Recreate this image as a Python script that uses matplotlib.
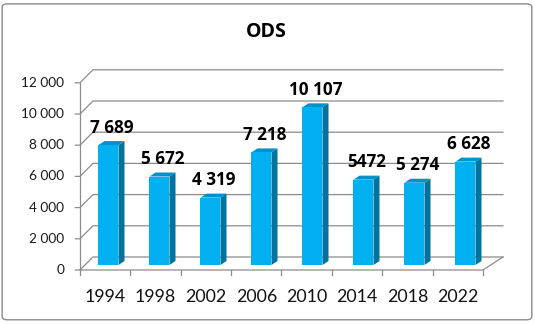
import matplotlib.pyplot as plt
from matplotlib.patches import Polygon, FancyBboxPatch

years = ['1994', '1998', '2002', '2006', '2010', '2014', '2018', '2022']
values = [7689, 5672, 4319, 7218, 10107, 5472, 5274, 6628]
value_labels = ['7 689', '5 672', '4 319', '7 218', '10 107', '5472', '5 274', '6 628']
yticks = [0, 2000, 4000, 6000, 8000, 10000, 12000]
ytick_labels = ['0', '2 000', '4 000', '6 000', '8 000', '10 000', '12 000']

FRONT = '#00B0F0'
SIDE = '#00739F'
TOP = '#0092CA'
GRID = '#8C8C8C'

plt.rcParams['font.family'] = ['Lato', 'DejaVu Sans']
BOLD = ['Open Sans', 'DejaVu Sans']

fig = plt.figure(figsize=(5.35, 3.24), dpi=100)
ax = fig.add_axes([0, 0, 1, 1])
ax.set_xlim(-1.627, 8.863)
ax.set_ylim(-3782, 16987)
ax.axis('off')

# border
fig.patches.append(FancyBboxPatch((0.004, 0.013), 0.99, 0.975, boxstyle='round,pad=0,rounding_size=0.01',
                                  transform=fig.transFigure, fill=False, ec='#8A8A8A', lw=1.0))

# geometry of the 3d box (data units)
xf_l, xf_r = -0.059, 7.843     # front floor edge
xb_l, xb_r = 0.196, 8.235      # back wall
dy_f, dy_b = -320, 513         # vertical offsets of front / back planes
bw = 0.392                     # bar width
ddx, ddy = 0.118, 256          # bar depth

# gridlines: short tick, side wall diagonal, back wall horizontal
for v, lab in zip(yticks, ytick_labels):
    ax.plot([xf_l - 0.09, xf_l, xb_l, xb_r], [v + dy_f, v + dy_f, v + dy_b, v + dy_b],
            color=GRID, lw=0.9, zorder=1)
    ax.text(-0.37, v + dy_f, lab, ha='right', va='center', fontsize=9.8, color='#1a1a1a')

# floor and left axis
ax.plot([xf_l, xf_l], [dy_f, 12000 + dy_f], color=GRID, lw=0.9, zorder=1)
ax.plot([xf_l, xf_r, xb_r], [dy_f, dy_f, dy_b], color=GRID, lw=0.9, zorder=1)

# category ticks and labels on the front floor edge
step = (xf_r - xf_l) / len(years)
for k in range(len(years) + 1):
    xt = xf_l + k * step
    ax.plot([xt, xt], [dy_f, dy_f - 330], color=GRID, lw=0.9, zorder=1)
for i, yr in enumerate(years):
    ax.text(xf_l + (i + 0.5) * step, -2050, yr, ha='center', va='center', fontsize=12.8, color='#111111')

# bars
for i, v in enumerate(values):
    xl = i + 0.5 - bw / 2
    xr = i + 0.5 + bw / 2
    ax.add_patch(Polygon([(xr, 0), (xr + ddx, ddy), (xr + ddx, v + ddy), (xr, v)],
                         closed=True, fc=SIDE, ec='none', zorder=3))
    ax.add_patch(Polygon([(xl, v), (xr, v), (xr + ddx, v + ddy), (xl + ddx, v + ddy)],
                         closed=True, fc=TOP, ec='none', zorder=3))
    ax.bar(i + 0.5, v, width=bw, color=FRONT, zorder=4)
    ax.annotate(value_labels[i], (i + 0.5 + ddx / 2, v), xytext=(0, 12.5), textcoords='offset points',
                ha='center', va='center', fontsize=12.3, fontweight='bold', family=BOLD,
                color='black', zorder=5)

fig.text(266 / 535, 1 - 32 / 324, 'ODS', ha='center', va='center', fontsize=14, fontweight='bold', family=BOLD)

fig.savefig('out.png', dpi=100)
